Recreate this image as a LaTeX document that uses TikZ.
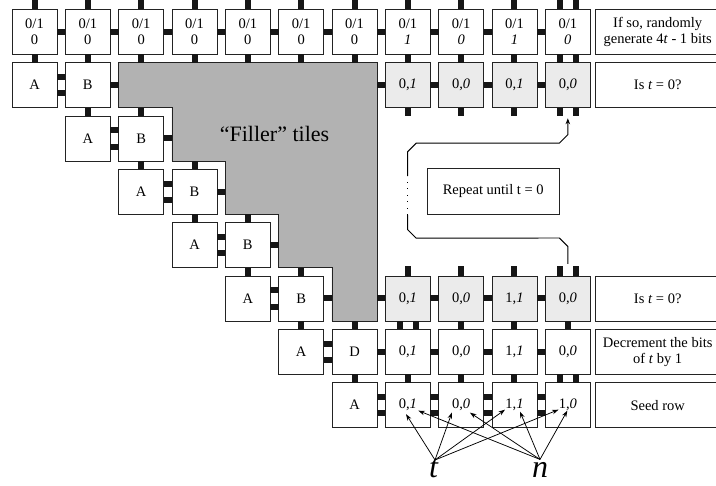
\documentclass[tikz,border=0pt]{standalone}
\usepackage{fontspec}
\setmainfont{Liberation Serif}
\usetikzlibrary{calc,arrows.meta}
\definecolor{fillergray}{RGB}{178,178,178}
\definecolor{lighttile}{RGB}{235,235,235}
\definecolor{gluecol}{RGB}{22,22,22}
\definecolor{edgecol}{RGB}{35,35,35}
\tikzset{
  tile/.style={draw=edgecol, line width=0.9pt, fill=white, minimum width=45pt, minimum height=45pt,
    inner sep=0pt, outer sep=0pt, align=center, font=\fontsize{14.5}{16.5}\selectfont},
  ltile/.style={tile, fill=lighttile},
  cell/.style={minimum width=45pt, minimum height=45pt, inner sep=0pt, outer sep=0pt},
  labelbox/.style={draw=edgecol, line width=0.9pt, fill=white, minimum width=124.7pt, minimum height=45pt,
    inner sep=0pt, outer sep=0pt, align=center, font=\fontsize{14.5}{16.5}\selectfont},
  gl/.style={fill=gluecol},
  loopline/.style={draw=black, line width=0.95pt},
  pointer/.style={draw=black, line width=0.75pt, -{Stealth[length=6.5pt,width=4.5pt]}},
  biglab/.style={font=\fontsize{32}{32}\selectfont\itshape, inner sep=0pt, outer sep=0pt, anchor=base},
}
\newcommand{\tglH}[3]{\fill[gl] ($(#1.east)+(0,#3-3)$) rectangle ($(#2.west)+(0,#3+3)$);}
\newcommand{\tglV}[3]{\fill[gl] ($(#1.south)+(#3-3,0)$) rectangle ($(#2.north)+(#3+3,0)$);}
\newcommand{\tglU}[2]{\fill[gl] ($(#1.north)+(#2-3,0)$) rectangle ($(#1.north)+(#2+3,-9.6)$);}
\newcommand{\tglD}[2]{\fill[gl] ($(#1.south)+(#2-3,0)$) rectangle ($(#1.south)+(#2+3,8.6)$);}
\begin{document}
\begin{tikzpicture}[x=1pt,y=-1pt]
\useasboundingbox (0,0) rectangle (716,486);
\clip (0,0) rectangle (716,486);

% invisible filler cells
\foreach \ri/\ci in {1/2,1/3,1/4,1/5,1/6,2/3,2/4,2/5,2/6,3/4,3/5,3/6,4/5,4/6,5/6}
  \node[cell] (r\ri c\ci) at ({34.5+53.333*\ci},{31.833+53.333*\ri}) {};

% filler region
\filldraw[fill=fillergray, draw=edgecol, line width=0.8pt]
  (r1c2.north west) -- (r1c6.north east) -- (r5c6.south east) -- (r5c6.south west)
  -- (r4c6.south west) -- (r4c5.south west) -- (r3c5.south west) -- (r3c4.south west)
  -- (r2c4.south west) -- (r2c3.south west) -- (r1c3.south west) -- (r1c2.south west) -- cycle;
\node[font=\fontsize{22}{26}\selectfont] (fillertxt) at (274.5,133.5) {``Filler'' tiles};

% row 0
\foreach \ci in {0,...,6}
  \node[tile] (r0c\ci) at ({34.5+53.333*\ci},31.833) {0/1\\0};
\foreach \ci/\bi in {7/1,8/0,9/1,10/0}
  \node[tile] (r0c\ci) at ({34.5+53.333*\ci},31.833) {0/1\\\textit{\bi}};

% A, B, D tiles
\foreach \ri/\ci in {1/0,2/1,3/2,4/3,5/4,6/5,7/6}
  \node[tile] (r\ri c\ci) at ({34.5+53.333*\ci},{31.833+53.333*\ri}) {A};
\foreach \ri/\ci in {1/1,2/2,3/3,4/4,5/5}
  \node[tile] (r\ri c\ci) at ({34.5+53.333*\ci},{31.833+53.333*\ri}) {B};
\node[tile] (r6c6) at ({34.5+53.333*6},{31.833+53.333*6}) {D};

% bit tiles
\foreach \ci/\ai/\bi in {7/0/1,8/0/0,9/0/1,10/0/0}
  \node[ltile] (r1c\ci) at ({34.5+53.333*\ci},{31.833+53.333}) {\ai,\textit{\bi}};
\foreach \ci/\ai/\bi in {7/0/1,8/0/0,9/1/1,10/0/0}
  \node[ltile] (r5c\ci) at ({34.5+53.333*\ci},{31.833+53.333*5}) {\ai,\textit{\bi}};
\foreach \ci/\ai/\bi in {7/0/1,8/0/0,9/1/1,10/0/0}
  \node[tile] (r6c\ci) at ({34.5+53.333*\ci},{31.833+53.333*6}) {\ai,\textit{\bi}};
\foreach \ci/\ai/\bi in {7/0/1,8/0/0,9/1/1,10/1/0}
  \node[tile] (r7c\ci) at ({34.5+53.333*\ci},{31.833+53.333*7}) {\ai,\textit{\bi}};

% label boxes
\node[labelbox] (lab0) at (657.7,31.833) {If so, randomly\\generate 4\textit{t} - 1 bits};
\node[labelbox] (lab1) at (657.7,{31.833+53.333}) {Is \textit{t} = 0?};
\node[labelbox] (lab5) at (657.7,{31.833+53.333*5}) {Is \textit{t} = 0?};
\node[labelbox] (lab6) at (657.7,{31.833+53.333*6}) {Decrement the bits\\of \textit{t} by 1};
\node[labelbox] (lab7) at (657.7,{31.833+53.333*7}) {Seed row};

% glues: row 0
\foreach \ci in {0,...,9} {\tglU{r0c\ci}{0}}
\tglU{r0c10}{-8.3}\tglU{r0c10}{8.3}
\foreach \ci [evaluate=\ci as \di using int(\ci+1)] in {0,...,9} {\tglH{r0c\ci}{r0c\di}{0}}
\foreach \ci in {0,...,9} {\tglV{r0c\ci}{r1c\ci}{0}}
\tglV{r0c10}{r1c10}{-8.3}\tglV{r0c10}{r1c10}{8.3}
% row 1
\tglH{r1c0}{r1c1}{-8.2}\tglH{r1c0}{r1c1}{8.2}
\tglH{r1c1}{r1c2}{0}
\tglH{r1c6}{r1c7}{0}\tglH{r1c7}{r1c8}{0}\tglH{r1c8}{r1c9}{0}\tglH{r1c9}{r1c10}{0}
\tglD{r1c7}{0}\tglD{r1c8}{0}\tglD{r1c9}{0}\tglD{r1c10}{-8.3}\tglD{r1c10}{8.3}
\tglV{r1c1}{r2c1}{0}\tglV{r1c2}{r2c2}{0}
% staircase rows 2-5
\foreach \ri/\ci in {2/1,3/2,4/3,5/4} {
  \pgfmathtruncatemacro{\di}{\ci+1}
  \pgfmathtruncatemacro{\ei}{\ci+2}
  \tglH{r\ri c\ci}{r\ri c\di}{-8.2}
  \tglH{r\ri c\ci}{r\ri c\di}{8.2}
  \tglH{r\ri c\di}{r\ri c\ei}{0}
}
\foreach \ri/\ci in {2/2,2/3,3/3,3/4,4/4,4/5,5/5,5/6} {
  \pgfmathtruncatemacro{\si}{\ri+1}
  \tglV{r\ri c\ci}{r\si c\ci}{0}
}
% row 5
\tglH{r5c6}{r5c7}{0}\tglH{r5c7}{r5c8}{0}\tglH{r5c8}{r5c9}{0}\tglH{r5c9}{r5c10}{0}
\tglU{r5c7}{0}\tglU{r5c8}{0}\tglU{r5c9}{0}\tglU{r5c10}{-8.3}\tglU{r5c10}{8.3}
\tglV{r5c7}{r6c7}{-8.3}\tglV{r5c7}{r6c7}{8.3}
\tglV{r5c8}{r6c8}{0}\tglV{r5c9}{r6c9}{0}\tglV{r5c10}{r6c10}{0}
% row 6
\tglH{r6c5}{r6c6}{-8.2}\tglH{r6c5}{r6c6}{8.2}
\tglH{r6c6}{r6c7}{0}\tglH{r6c7}{r6c8}{0}\tglH{r6c8}{r6c9}{0}\tglH{r6c9}{r6c10}{0}
\tglV{r6c6}{r7c6}{0}\tglV{r6c7}{r7c7}{0}\tglV{r6c8}{r7c8}{0}\tglV{r6c9}{r7c9}{0}
\tglV{r6c10}{r7c10}{-8.3}\tglV{r6c10}{r7c10}{8.3}
% row 7
\foreach \ci [evaluate=\ci as \di using int(\ci+1)] in {6,...,9} {
  \tglH{r7c\ci}{r7c\di}{-8.3}\tglH{r7c\ci}{r7c\di}{8.3}
}

% repeat loop
\node[draw=edgecol, line width=0.8pt, minimum width=132.3pt, minimum height=45.7pt, inner sep=0pt,
  font=\fontsize{14.5}{16.5}\selectfont] (repeat) at (493.2,191.2) {Repeat until t = 0};
\coordinate (loopA) at (407.7,215);
\coordinate (loopB) at (407.7,176);
\draw[loopline] ($(r5c10.north)+(0,-12)$) -- ++(0,-17.5) -- ++(-8.5,-8.5) -- (416.2,238.2)
  -- (407.7,229.7) -- (loopA);
\draw[loopline, dash pattern=on 0.9pt off 5.6pt] (loopA) -- (loopB);
\draw[loopline, -{Stealth[length=6pt,width=4.5pt]}] (loopB) -- (407.7,151.7) -- (416.2,143.2)
  -- (559.3,143.2) -- (567.8,134.7) -- ($(r1c10.south)+(0,10.6)$);

% t and n
\node[biglab] (tlab) at (433.5,477.5) {t};
\node[biglab] (nlab) at (540,477.5) {n};
\foreach \ci/\dx/\dy in {7/-1.8/9, 8/-9.2/7.3, 9/-9.5/4.5, 10/-9.3/4.5}
  \draw[pointer] ($(tlab.north)+(1.5,0.5)$) -- ($(r7c\ci)+(\dx,\dy)$);
\foreach \ci/\dx/\dy in {7/10.5/5.5, 8/8.8/7.5, 9/5.5/6.5, 10/-0.5/5.5}
  \draw[pointer] ($(nlab.north)+(0,-3)$) -- ($(r7c\ci)+(\dx,\dy)$);
\end{tikzpicture}
\end{document}
